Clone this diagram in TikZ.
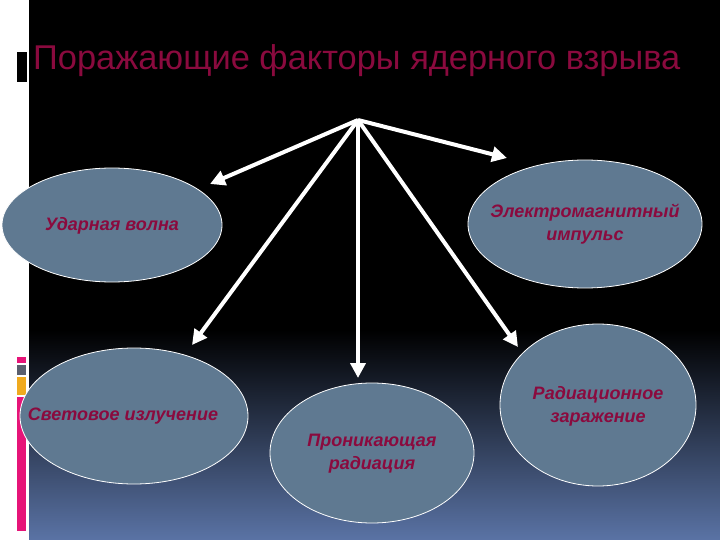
\documentclass[tikz,border=0pt]{standalone}
\usepackage{fontspec}
\setmainfont{Liberation Sans}
\usetikzlibrary{shapes.geometric,arrows.meta}
\definecolor{crim}{RGB}{138,10,62}
\definecolor{ellfill}{RGB}{95,121,145}
\definecolor{botblue}{RGB}{90,115,165}
\definecolor{barpink}{RGB}{230,20,120}
\definecolor{bargray}{RGB}{90,95,110}
\definecolor{barorange}{RGB}{240,170,30}
\begin{document}
\begin{tikzpicture}[x=1pt,y=-1pt,
  ell/.style={ellipse, draw=white, line width=0.8pt, fill=ellfill, inner sep=0pt},
  txt/.style={text=crim, font=\fontsize{18}{23}\selectfont\bfseries\itshape, align=center, inner sep=0pt},
  arr/.style={draw=white, line width=4pt, -{Triangle[length=15pt,width=15pt]}}]
\useasboundingbox (0,0) rectangle (720,540);
\fill[white] (0,0) rectangle (29,540);
\fill[black] (29,0) rectangle (720,330);
\shade[top color=black, bottom color=botblue] (29,330) rectangle (720,540);
% left bars
\fill[black] (17,52) rectangle (27,82);
\fill[barpink] (17,357) rectangle (26,363);
\fill[bargray] (17,365) rectangle (26,375);
\fill[barorange] (17,377) rectangle (26,395);
\fill[barpink] (17,397) rectangle (26,531);
% title
\node[anchor=base west, text=crim, font=\fontsize{34.4}{40}\selectfont, inner sep=0pt] (title) at (33,70)
  {Поражающие факторы ядерного взрыва};
% ellipses
\node[ell, minimum width=220pt, minimum height=114pt] (udar) at (112,225) {};
\node[txt] (udart) at (112,226) {Ударная волна};
\node[ell, minimum width=234pt, minimum height=128pt] (emi) at (585,224) {};
\node[txt] (emit) at (585,224) {Электромагнитный\\импульс};
\node[ell, minimum width=228pt, minimum height=136pt] (svet) at (134,416) {};
\node[txt] (svett) at (123,416) {Световое излучение};
\node[ell, minimum width=204pt, minimum height=140pt] (pron) at (372,453) {};
\node[txt] (pront) at (372,454) {Проникающая\\радиация};
\node[ell, minimum width=196pt, minimum height=162pt] (rad) at (598,405) {};
\node[txt] (radt) at (598,406) {Радиационное\\заражение};
% arrows
\coordinate (o) at (358,120);
\coordinate (a1) at (210,184);
\coordinate (a2) at (507,158);
\coordinate (a3) at (192,345);
\coordinate (a4) at (358,378);
\coordinate (a5) at (518,347);
\draw[arr] (o) -- (a1);
\draw[arr] (o) -- (a2);
\draw[arr] (o) -- (a3);
\draw[arr] (o) -- (a4);
\draw[arr] (o) -- (a5);
\end{tikzpicture}
\end{document}
